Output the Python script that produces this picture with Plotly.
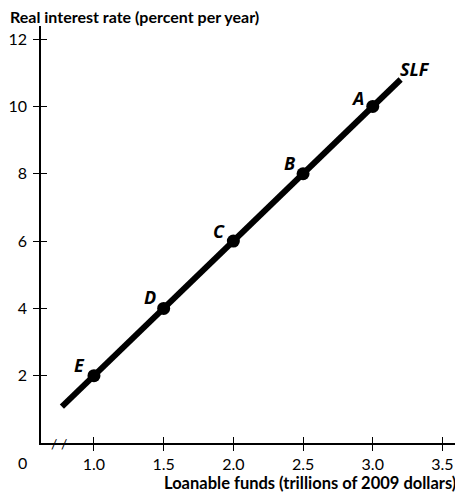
import plotly.graph_objects as go

# Data
curve_x = [0.77, 3.2]
curve_y = [1.08, 10.8]
point_labels = ["A", "B", "C", "D", "E"]
point_x = [3.0, 2.5, 2.0, 1.5, 1.0]
point_y = [10, 8, 6, 4, 2]
x_ticks = [1.0, 1.5, 2.0, 2.5, 3.0, 3.5]
x_ticklabels = ["1.0", "1.5", "2.0", "2.5", "3.0", "3.5"]
y_ticks = [2, 4, 6, 8, 10, 12]
curve_name = "SLF"

X_RANGE = [0.62, 3.59]
Y_RANGE = [0, 12.39]
FONT = "Lato"
LABEL_FONT = "Open Sans"

# figure sits at (8, 8) in the page because of the default body margin
W, H = 455, 488
ML, MR, MT, MB = 33, 8, 18, 53
PW, PH = W - ML - MR, H - MT - MB

fig = go.Figure()
fig.add_trace(go.Scatter(x=curve_x, y=curve_y, mode="lines",
                         line=dict(color="black", width=6), showlegend=False, hoverinfo="skip"))
fig.add_trace(go.Scatter(x=point_x, y=point_y, mode="markers",
                         marker=dict(color="black", size=13), showlegend=False))
fig.add_trace(go.Scatter(x=[None], y=[None], xaxis="x2", yaxis="y2", showlegend=False))

label_shifts = {"A": (-15, 8), "B": (-14, 11), "C": (-14, 10), "D": (-14, 11), "E": (-14, 11)}
for lab, px, py in zip(point_labels, point_x, point_y):
    dx, dy = label_shifts[lab]
    fig.add_annotation(x=px, y=py, text=f"<b><i>{lab}</i></b>", showarrow=False,
                       xanchor="center", yanchor="middle", xshift=dx, yshift=dy,
                       font=dict(family=LABEL_FONT, size=18, color="black"))
fig.add_annotation(x=curve_x[1], y=curve_y[1], text=f"<b><i>{curve_name}</i></b>", showarrow=False,
                   xanchor="center", yanchor="middle", xshift=14, yshift=11,
                   font=dict(family=LABEL_FONT, size=18, color="black"))

# axis break marks and origin label
fig.add_annotation(x=0.75, y=0, text="/ /", showarrow=False, xanchor="center", yanchor="middle",
                   font=dict(family=FONT, size=14, color="black"))
fig.add_annotation(xref="paper", yref="paper", x=(14 - ML) / PW, y=-19 / PH, text="0", showarrow=False,
                   xanchor="center", yanchor="middle", font=dict(family=FONT, size=16, color="black"))

# axis titles
fig.add_annotation(xref="paper", yref="paper", x=-ML / PW, y=1 + (MT - 9) / PH, xanchor="left",
                   yanchor="middle", text="<b>Real interest rate (percent per year)</b>", showarrow=False,
                   font=dict(family=FONT, size=16, color="black"))
fig.add_annotation(xref="paper", yref="paper", x=1.0, xshift=3, y=-40 / PH, xanchor="right", yanchor="middle",
                   text="<b>Loanable funds (trillions of 2009 dollars)</b>", showarrow=False,
                   font=dict(family=FONT, size=16.5, color="black"))

axis_common = dict(showgrid=False, zeroline=False, showline=True, linecolor="black", linewidth=1.5,
                   tickcolor="black", tickwidth=1.2, ticklen=6, automargin=False)
fig.update_layout(
    width=W, height=H,
    margin=dict(l=ML, r=MR, t=MT, b=MB, pad=0, autoexpand=False),
    paper_bgcolor="white", plot_bgcolor="white",
    font=dict(family=FONT, size=16, color="black"),
    xaxis=dict(range=X_RANGE, tickvals=x_ticks, ticktext=x_ticklabels, ticks="outside",
               tickfont=dict(family=FONT, size=16), **axis_common),
    yaxis=dict(range=Y_RANGE, tickvals=y_ticks, ticks="outside", ticklabelstandoff=3,
               tickfont=dict(family=FONT, size=16), **axis_common),
    xaxis2=dict(range=X_RANGE, overlaying="x", tickvals=x_ticks, ticks="inside", showticklabels=False,
                **axis_common),
    yaxis2=dict(range=Y_RANGE, overlaying="y", tickvals=y_ticks, ticks="inside", showticklabels=False,
                **axis_common),
)
fig.write_html("out.html")
